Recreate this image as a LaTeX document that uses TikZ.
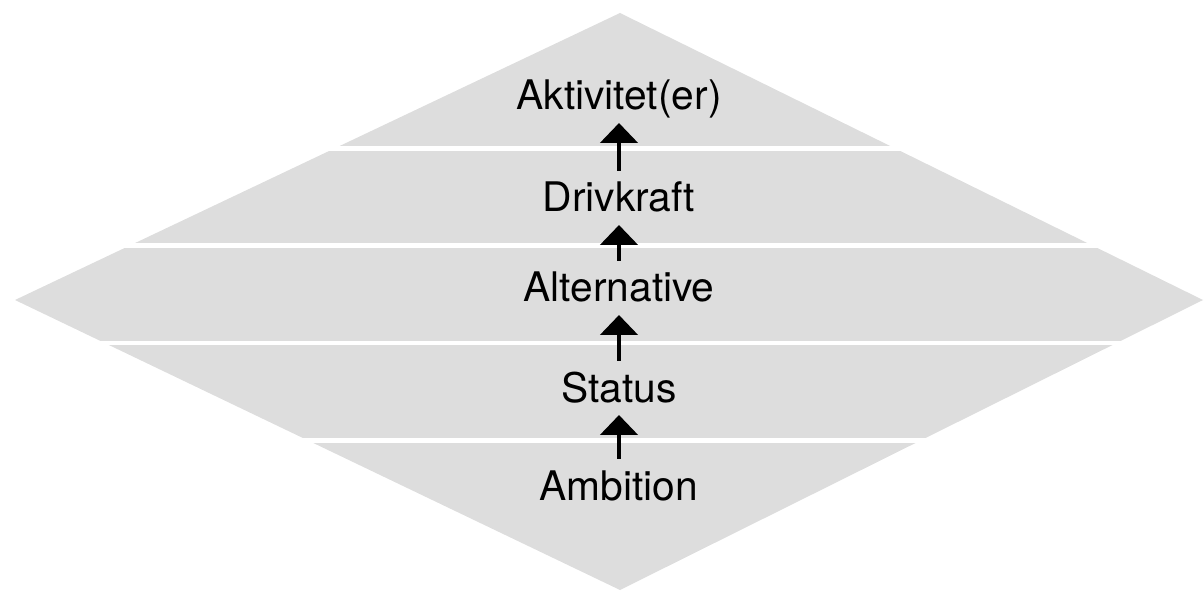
\documentclass[tikz,border=0pt]{standalone}
\usepackage{fontspec}
\setmainfont{TeX Gyre Heros}
\usetikzlibrary{arrows.meta}
\definecolor{layerGray}{RGB}{221,221,221}
\begin{document}
\begin{tikzpicture}
[x=0.02cm,y=-0.02cm,
  levelDecorate/.style={anchor=base,text height=0.57cm,text depth=0pt,inner sep=0.26cm,outer sep=0pt,font=\fontsize{23.2}{27}\selectfont},
  arrowDecorate/.style={-{Triangle[length=0.4cm,width=0.74cm]},line width=2.8pt},
  gapDecorate/.style={white,line width=0.1cm}]
\useasboundingbox (0,0) rectangle (1204,591);
%% diamond
\fill[layerGray] (620,13) -- (1203,300) -- (620,590) -- (15,300) -- cycle;
%% gaps between the layers
\foreach \y in {149,246,343,440}
{
  \draw[gapDecorate] (0,\y) -- (1204,\y);
}
%% levels
\foreach \nodename/\txt/\y in {
  aktivitet/Aktivitet(er)/110, drivkraft/Drivkraft/212, alternative/Alternative/302,
  status/Status/402, ambition/Ambition/500}
{
  \node (\nodename) at (619,\y) [levelDecorate] {\txt};
}
%% arrows
\path
\foreach \startnode/\endnode in {
  ambition/status, status/alternative, alternative/drivkraft, drivkraft/aktivitet}
{
  (\startnode) edge[arrowDecorate] (\endnode)
};
\end{tikzpicture}
\end{document}
